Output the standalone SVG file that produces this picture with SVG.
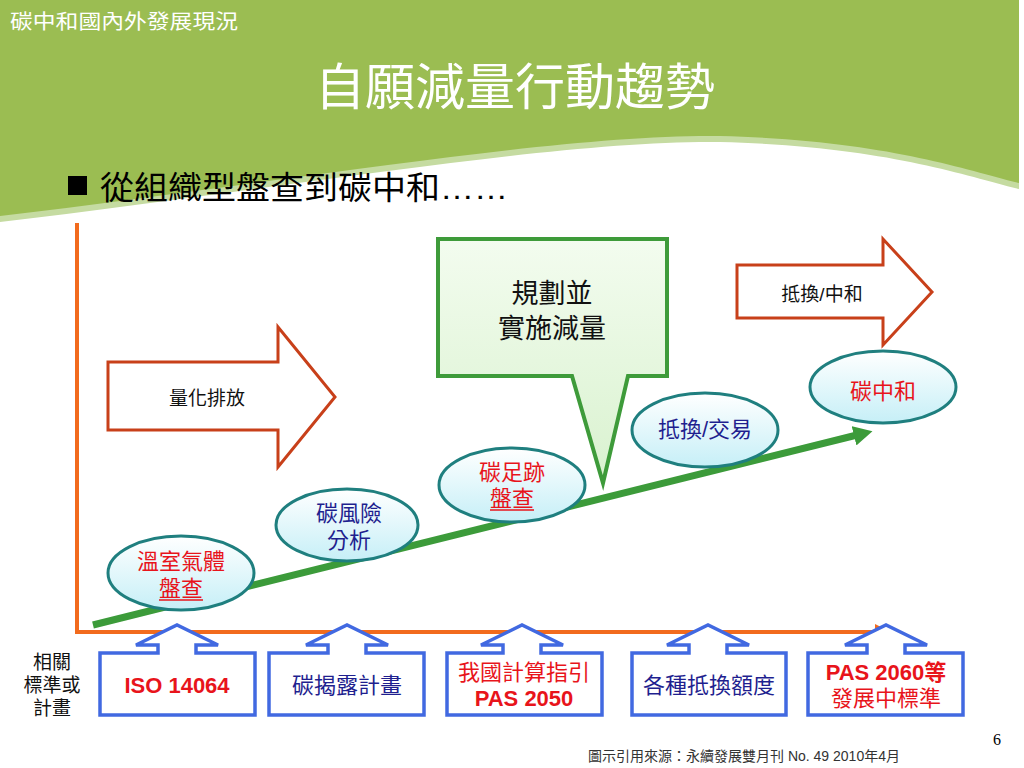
<svg xmlns="http://www.w3.org/2000/svg" width="1024" height="768" viewBox="0 0 1024 768">
<defs>
<linearGradient id="ellFill" x1="0" y1="0" x2="0" y2="1">
<stop offset="0" stop-color="#ffffff"/>
<stop offset="1" stop-color="#c6eff7"/>
</linearGradient>
<linearGradient id="calloutFill" x1="0" y1="0" x2="0" y2="1">
<stop offset="0" stop-color="#f3fcef"/>
<stop offset="1" stop-color="#d9f2cf"/>
</linearGradient>
<marker id="garrow" viewBox="0 0 20 20" refX="1" refY="10" markerWidth="20" markerHeight="20" markerUnits="userSpaceOnUse" orient="auto">
<path d="M0,0 L19,10 L0,20 Z" fill="#3c9b3a"/>
</marker>
<marker id="oarrow" viewBox="0 0 16 16" refX="1" refY="8" markerWidth="16" markerHeight="16" markerUnits="userSpaceOnUse" orient="auto">
<path d="M0,0 L16,8 L0,16 Z" fill="#f26b1d"/>
</marker>
</defs>
<style>
text{font-family:"Liberation Sans","Noto Sans CJK TC",sans-serif;}
.ell{fill:url(#ellFill);stroke:#1f7f7f;stroke-width:3;}
.blk{fill:#ffffff;stroke:#c8401a;stroke-width:3;stroke-linejoin:miter;}
.box{fill:#ffffff;stroke:#4169e1;stroke-width:3.5;stroke-linejoin:miter;}
.red{fill:#e8141b;}
.navy{fill:#1f1f8f;}
.blk-t{fill:#111111;}
.t22{font-size:22px;}
.b{font-weight:bold;}
.mid{text-anchor:middle;}
.ul{stroke:#e8141b;stroke-width:1.5;}
</style>
<rect width="1024" height="768" fill="#ffffff"/>
<g id="header">
<path d="M0,0 H1019 V189 C960,174 880,146 720,142 C560,140 300,186 0,222 Z" fill="#c5dba1"/>
<path d="M0,0 H1019 V183 C960,168 880,140 720,136 C560,134 300,180 0,216 Z" fill="#9bbd52"/>
<text x="10" y="29" font-size="20" fill="#ffffff" textLength="228" lengthAdjust="spacingAndGlyphs">碳中和國內外發展現況</text>
<text x="515" y="105" font-size="50" fill="#ffffff" class="mid">自願減量行動趨勢</text>
</g>
<g id="bullet">
<rect x="68" y="176" width="19" height="19" fill="#000000"/>
<text x="100" y="199" font-size="32" fill="#000000" textLength="408" lengthAdjust="spacingAndGlyphs">從組織型盤查到碳中和……</text>
</g>
<g id="connectors">
<line x1="77" y1="223" x2="77" y2="634" stroke="#f26b1d" stroke-width="4"/>
<line x1="75" y1="632" x2="876" y2="632" stroke="#f26b1d" stroke-width="4" marker-end="url(#oarrow)"/>
<line x1="93" y1="625" x2="855" y2="435.5" stroke="#3c9b3a" stroke-width="7" marker-end="url(#garrow)"/>
</g>
<g id="arrow-quantify">
<path class="blk" d="M108,362 H278 V327 L335,397 L278,467 V430 H108 Z"/>
<text x="207" y="405" font-size="19" class="blk-t mid">量化排放</text>
</g>
<g id="arrow-offset">
<path class="blk" d="M737,265 H883 V239 L932,292 L883,345 V318 H737 Z"/>
<text x="822" y="301" font-size="19" class="blk-t mid">抵換/中和</text>
</g>
<g id="callout-plan">
<path d="M438,239 H667 V376 H628 L603,483 L572,376 H438 Z" fill="url(#calloutFill)" stroke="#3e9b3a" stroke-width="4"/>
<text x="552" y="303" font-size="27" class="blk-t mid">規劃並</text>
<text x="552" y="338" font-size="27" class="blk-t mid">實施減量</text>
</g>
<g id="node-ghg">
<ellipse class="ell" cx="181" cy="573" rx="73" ry="37"/>
<text x="181" y="569" class="t22 red mid">溫室氣體</text>
<text x="181" y="596" class="t22 red mid">盤查</text>
<line class="ul" x1="159" y1="600" x2="203" y2="600"/>
</g>
<g id="node-risk">
<ellipse class="ell" cx="347" cy="525" rx="71" ry="36"/>
<text x="349" y="521" class="t22 navy mid">碳風險</text>
<text x="349" y="548" class="t22 navy mid">分析</text>
</g>
<g id="node-footprint">
<ellipse class="ell" cx="512" cy="485" rx="73" ry="37"/>
<text x="512" y="480" class="t22 red mid">碳足跡</text>
<text x="512" y="506" class="t22 red mid">盤查</text>
<line class="ul" x1="490" y1="510" x2="534" y2="510"/>
</g>
<g id="node-trade">
<ellipse class="ell" cx="705" cy="430" rx="73" ry="37"/>
<text x="705" y="437" class="t22 navy mid">抵換/交易</text>
</g>
<g id="node-neutral">
<ellipse class="ell" cx="883" cy="387" rx="73" ry="36"/>
<text x="883" y="399" class="t22 red mid">碳中和</text>
</g>
<g id="label-standards">
<text x="52" y="669" font-size="19" class="blk-t mid">相關</text>
<text x="52" y="692" font-size="19" class="blk-t mid">標準或</text>
<text x="52" y="715" font-size="19" class="blk-t mid">計畫</text>
</g>
<g id="box-iso">
<path class="box" d="M100,653 H158 V645 H136 L177,625 L218,645 H196 V653 H255 V715 H100 Z"/>
<text x="177" y="693" class="t22 red b mid">ISO 14064</text>
</g>
<g id="box-cdp">
<path class="box" d="M269,653 H328 V645 H306 L347,625 L388,645 H366 V653 H424 V715 H269 Z"/>
<text x="347" y="693" class="t22 navy mid">碳揭露計畫</text>
</g>
<g id="box-pas2050">
<path class="box" d="M447,653 H503 V645 H481 L522,625 L563,645 H541 V653 H602 V715 H447 Z"/>
<text x="524" y="680" class="t22 red mid">我國計算指引</text>
<text x="524" y="706" class="t22 red b mid">PAS 2050</text>
</g>
<g id="box-credits">
<path class="box" d="M632,653 H689 V645 H667 L708,625 L749,645 H727 V653 H786 V715 H632 Z"/>
<text x="709" y="693" class="t22 navy mid">各種抵換額度</text>
</g>
<g id="box-pas2060">
<path class="box" d="M808,653 H867 V645 H845 L886,625 L927,645 H905 V653 H963 V715 H808 Z"/>
<text x="886" y="680" class="t22 red b mid">PAS 2060等</text>
<text x="886" y="706" class="t22 red mid">發展中標準</text>
</g>
<g id="footer">
<text x="997" y="745" font-size="16" fill="#000000" style="font-family:'Liberation Serif',serif" class="mid">6</text>
<text x="588" y="761" font-size="14" fill="#333333">圖示引用來源：永續發展雙月刊 No. 49 2010年4月</text>
</g>
</svg>
